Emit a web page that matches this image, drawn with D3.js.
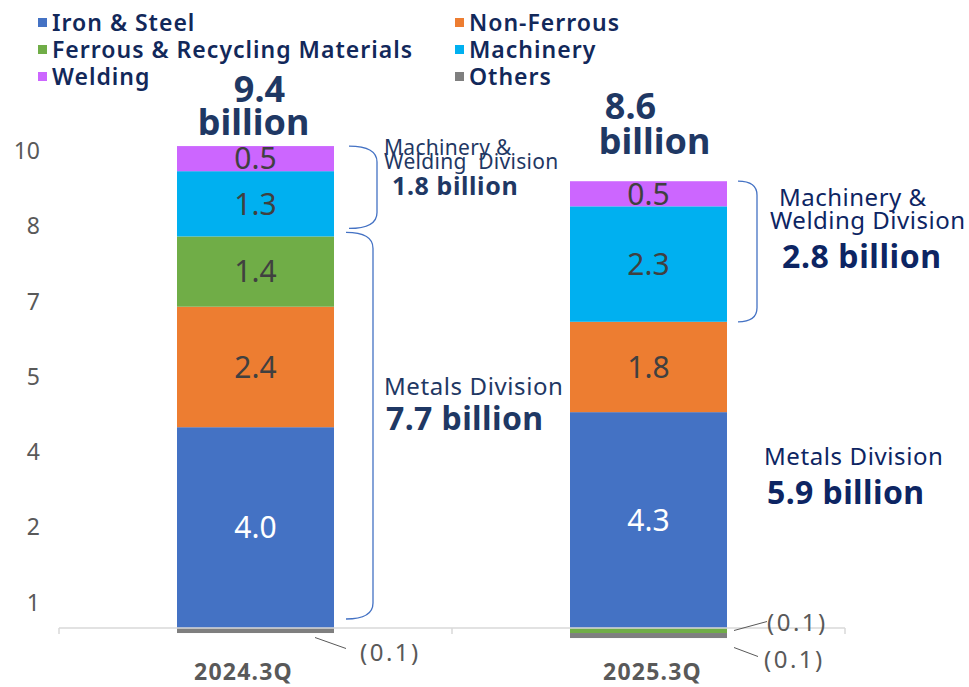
<!DOCTYPE html>
<html>
<head>
<meta charset="utf-8">
<script src="https://cdn.jsdelivr.net/npm/d3@7"></script>
<style>
  body { margin: 0; background: #fff; }
  text { font-family: "Noto Sans", sans-serif; white-space: pre; }
</style>
</head>
<body>
<svg id="chart" width="969" height="687"></svg>
<script>
const categories = ["2024.3Q", "2025.3Q"];
const seriesNames = ["Iron & Steel", "Non-Ferrous", "Ferrous & Recycling Materials", "Machinery", "Welding", "Others"];
const ironSteel = [4.0, 4.3];
const nonFerrous = [2.4, 1.8];
const ferrous = [1.4, -0.1];
const machinery = [1.3, 2.3];
const welding = [0.5, 0.5];
const others = [-0.1, -0.1];
const totals = ["9.4", "8.6"];
const machWeldTotals = ["1.8", "2.8"];
const metalsTotals = ["7.7", "5.9"];
const yTicks = [0.5, 2, 3.5, 5, 6.5, 8, 9.5];

const colors = ["#4472C4", "#ED7D31", "#70AD47", "#00B0F0", "#CC66FF", "#7F7F7F"];
const navy = "#1F3864";
const grey = "#595959";

let svg = d3.select("#chart");

let x = d3.scaleBand().domain(categories).range([59, 845]);
let y = d3.scaleLinear().domain([0, 10]).range([628, 126]);
let barW = 157;
let barX = (c) => x(c) + x.bandwidth() / 2 - barW / 2;

let table = categories.map((c, i) => ({
  cat: c,
  [seriesNames[0]]: ironSteel[i],
  [seriesNames[1]]: nonFerrous[i],
  [seriesNames[2]]: ferrous[i],
  [seriesNames[3]]: machinery[i],
  [seriesNames[4]]: welding[i],
  [seriesNames[5]]: others[i]
}));

let stacked = d3.stack().keys(seriesNames).offset(d3.stackOffsetDiverging)(table);

// legend
let legend = svg.append("g");
seriesNames.forEach((name, i) => {
  let lx = i % 2 === 0 ? 38 : 455;
  let ly = 23 + Math.floor(i / 2) * 27;
  legend.append("rect")
    .attr("x", lx).attr("y", ly - 5)
    .attr("width", 9).attr("height", 9)
    .attr("fill", colors[i]);
  legend.append("text")
    .attr("x", lx + 14).attr("y", ly)
    .attr("dy", "0.35em")
    .attr("font-size", 23)
    .attr("font-weight", 600)
    .attr("letter-spacing", 1)
    .attr("fill", "#12285A")
    .text(name);
});

// y axis
let yAxis = svg.append("g")
  .attr("transform", "translate(40,0)")
  .call(d3.axisLeft(y).tickValues(yTicks).tickFormat((d) => Math.round(d)).tickSize(0).tickPadding(0));
yAxis.select(".domain").remove();
yAxis.selectAll("text")
  .attr("font-size", 23)
  .attr("fill", grey)
  .style("font-family", "'Noto Sans', sans-serif");

// bars
let layers = svg.append("g")
  .selectAll("g")
  .data(stacked)
  .enter()
  .append("g")
  .attr("fill", (d, i) => colors[i]);

layers.selectAll("rect")
  .data((d) => d)
  .enter()
  .append("rect")
  .attr("x", (d) => barX(d.data.cat))
  .attr("width", barW)
  .attr("y", (d) => y(Math.max(d[0], d[1])))
  .attr("height", (d) => Math.abs(y(d[0]) - y(d[1])));

// x axis line with boundary ticks
let axisY = y(0);
let xAxis = svg.append("g").attr("stroke", "#D9D9D9").attr("stroke-width", 1.5);
xAxis.append("line")
  .attr("x1", x.range()[0]).attr("x2", x.range()[1])
  .attr("y1", axisY).attr("y2", axisY);
categories.map((c) => x(c)).concat([x.range()[1]]).forEach((tx) => {
  xAxis.append("line")
    .attr("x1", tx).attr("x2", tx)
    .attr("y1", axisY).attr("y2", axisY + 6);
});

let catShift = [-12, 4];
svg.append("g")
  .selectAll("text")
  .data(categories)
  .enter()
  .append("text")
  .attr("x", (d, i) => x(d) + x.bandwidth() / 2 + catShift[i])
  .attr("y", 680)
  .attr("text-anchor", "middle")
  .attr("font-size", 23)
  .attr("font-weight", 700)
  .attr("letter-spacing", 1.2)
  .attr("fill", grey)
  .text((d) => d);

// segment value labels
stacked.forEach((layer, si) => {
  layer.forEach((d) => {
    let v = d[1] - d[0];
    if (Math.abs(v) < 0.5) return;
    svg.append("text")
      .attr("x", barX(d.data.cat) + barW / 2)
      .attr("y", y((d[0] + d[1]) / 2))
      .attr("dy", "0.36em")
      .attr("text-anchor", "middle")
      .attr("font-size", 30)
      .attr("fill", si === 0 ? "#fff" : "#404040")
      .text(v.toFixed(1));
  });
});

// small negative callouts
let calloutLayout = {
  "2024.3Q|Others": { x1: -19, y1: 7, x2: 12, y2: 18, tx: 26, ty: 22 },
  "2025.3Q|Ferrous & Recycling Materials": { x1: 7, y1: 0, x2: 40, y2: -9, tx: 40, ty: -8 },
  "2025.3Q|Others": { x1: 7, y1: 12, x2: 31, y2: 21, tx: 37, ty: 24 }
};
stacked.forEach((layer) => {
  layer.forEach((d) => {
    let key = d.data.cat + "|" + layer.key;
    let c = calloutLayout[key];
    if (!c) return;
    let v = d[1] - d[0];
    let rx = barX(d.data.cat) + barW;
    let cy = y((d[0] + d[1]) / 2);
    svg.append("line")
      .attr("x1", rx + c.x1).attr("y1", cy + c.y1)
      .attr("x2", rx + c.x2).attr("y2", cy + c.y2)
      .attr("stroke", grey).attr("stroke-width", 1);
    svg.append("text")
      .attr("x", rx + c.tx).attr("y", cy + c.ty)
      .attr("dy", "0.36em")
      .attr("font-size", 24)
      .attr("letter-spacing", 2.5)
      .attr("fill", grey)
      .text("(" + Math.abs(v).toFixed(1) + ")");
  });
});

// totals above bars
let totalLift = [[44, 11, 4, -2], [62, 27, -18, 6]];
categories.forEach((c, i) => {
  let top = y(d3.max(stacked, (l) => l[i][1]));
  let cx = barX(c) + barW / 2;
  let g = svg.append("g")
    .attr("font-size", 36)
    .attr("font-weight", 700)
    .attr("fill", navy)
    .attr("text-anchor", "middle");
  g.append("text").attr("x", cx + totalLift[i][2]).attr("y", top - totalLift[i][0]).text(totals[i]);
  g.append("text").attr("x", cx + totalLift[i][3]).attr("y", top - totalLift[i][1]).text("billion");
});

// division brackets
let bracket = (x0, x1, yTop, yBot, r) => {
  let p = d3.path();
  p.moveTo(x0, yTop);
  p.quadraticCurveTo(x1, yTop, x1, yTop + r);
  p.lineTo(x1, yBot - r);
  p.quadraticCurveTo(x1, yBot, x0, yBot);
  return p.toString();
};

let span = (i, keys) => {
  let ls = stacked.filter((l) => keys.includes(l.key));
  return [d3.min(ls, (l) => Math.max(0, l[i][0])), d3.max(ls, (l) => l[i][1])];
};

// lines: [text, dx from bar right, dy from bracket top, size, weight, letter-spacing]
let divisions = [
  { i: 0, keys: ["Machinery", "Welding"], x0: 15, x1: 43, padTop: 0, padBot: 8, r: 16,
    lines: [["Machinery &", 50, 9, 21, 400, 0.3], ["Welding  Division", 50, 23, 21, 400, 0.3],
            [machWeldTotals[0] + " billion", 58, 49, 25, 700, 0.6]] },
  { i: 0, keys: ["Iron & Steel", "Non-Ferrous", "Ferrous & Recycling Materials"], x0: 12, x1: 39, padTop: -4, padBot: 9, r: 16,
    lines: [["Metals Division", 50, 163, 24, 400, 0.6], [metalsTotals[0] + " billion", 52, 198, 32, 700, 0.4]] },
  { i: 1, keys: ["Machinery", "Welding"], x0: 11, x1: 30, padTop: 0, padBot: 0, r: 14,
    lines: [["Machinery &", 52, 25, 24, 400, 0.5], ["Welding Division", 43, 48, 24, 400, 0.5],
            [machWeldTotals[1] + " billion", 55, 87, 32, 700, 0.6]] }
];

divisions.forEach((dv) => {
  let [lo, hi] = span(dv.i, dv.keys);
  let rx = barX(categories[dv.i]) + barW;
  let yTop = y(hi) + dv.padTop;
  let yBot = y(lo) - dv.padBot;
  svg.append("path")
    .attr("d", bracket(rx + dv.x0, rx + dv.x1, yTop, yBot, dv.r))
    .attr("fill", "none")
    .attr("stroke", "#4472C4")
    .attr("stroke-width", 1.3);
  dv.lines.forEach((ln) => {
    svg.append("text")
      .attr("x", rx + ln[1])
      .attr("y", yTop + ln[2])
      .attr("font-size", ln[3])
      .attr("font-weight", ln[4])
      .attr("letter-spacing", ln[5])
      .attr("fill", dv.i === 0 ? navy : "#0D2563")
      .text(ln[0]);
  });
});

// 2025 metals label (no bracket)
let rx2 = barX(categories[1]) + barW;
let midMetals = y(3.3);
svg.append("text")
  .attr("x", rx2 + 37).attr("y", midMetals + 3)
  .attr("font-size", 24)
  .attr("letter-spacing", 0.6)
  .attr("fill", "#0D2563")
  .text("Metals Division");
svg.append("text")
  .attr("x", rx2 + 40).attr("y", midMetals + 42)
  .attr("font-size", 32)
  .attr("font-weight", 700)
  .attr("letter-spacing", 0.4)
  .attr("fill", "#0D2563")
  .text(metalsTotals[1] + " billion");
</script>
</body>
</html>
